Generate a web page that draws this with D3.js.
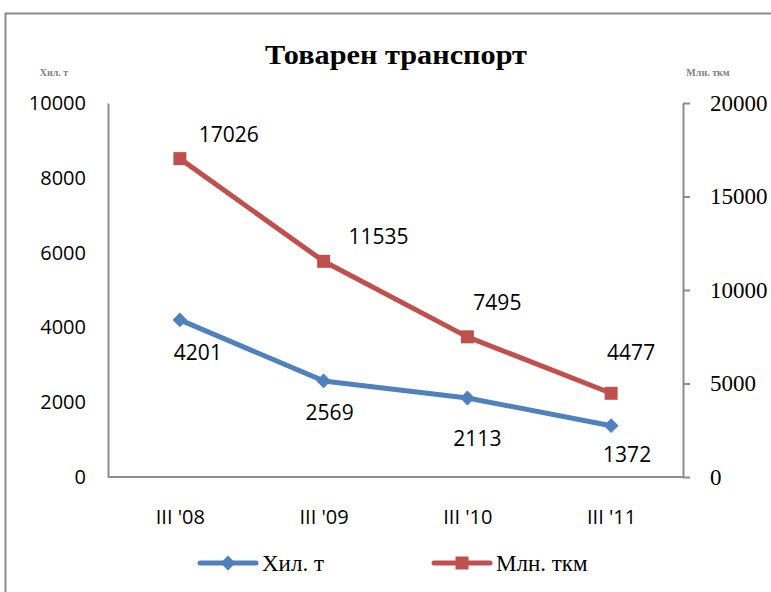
<!DOCTYPE html>
<html>
<head>
<meta charset="utf-8">
<script src="https://cdn.jsdelivr.net/npm/d3@7"></script>
<style>
  body { margin: 0; background: #fff; }
  svg { display: block; }
</style>
</head>
<body>
<svg id="chart" width="771" height="592"></svg>
<script>
// Data
const periods = ["III '08", "III '09", "III '10", "III '11"];
const tonnes = [4201, 2569, 2113, 1372];        // Хил. т (left axis)
const tkm = [17026, 11535, 7495, 4477];          // Млн. ткм (right axis)
const leftTicks = [0, 2000, 4000, 6000, 8000, 10000];
const rightTicks = [0, 5000, 10000, 15000, 20000];

// label nudges (Excel-style hand placed labels)
const tonnesLabelOffsets = [[18, 32], [6, 31], [10, 40], [16, 28]];
const tkmLabelOffsets = [[49, -25], [55, -25], [30, -35], [20, -41]];

/**************************************************************************************************/
const svg = d3.select("#chart");
const plot = { left: 108, right: 683, top: 103, bottom: 477 };
const blue = "#4f81bd", red = "#c0504d";

// outer chart frame (runs off the right and bottom of the picture)
svg.append("rect")
    .attr("x", 5.5).attr("y", 13.5)
    .attr("width", 900).attr("height", 700)
    .attr("fill", "none").attr("stroke", "#8c8c8c").attr("stroke-width", 2);

const x = d3.scalePoint().domain(periods).range([plot.left, plot.right]).padding(0.5);
const yL = d3.scaleLinear().domain([0, 10000]).range([plot.bottom, plot.top]);
const yR = d3.scaleLinear().domain([0, 20000]).range([plot.bottom, plot.top]);

svg.append("text")
    .attr("x", 396).attr("y", 64)
    .attr("text-anchor", "middle")
    .attr("font-family", "Liberation Serif, serif")
    .attr("font-weight", "bold")
    .attr("font-size", 28)
    .attr("textLength", 262).attr("lengthAdjust", "spacingAndGlyphs")
    .text("Товарен транспорт");

// axis titles (tiny grey)
svg.append("text")
    .attr("x", 54).attr("y", 76).attr("text-anchor", "middle")
    .attr("font-family", "Liberation Serif, serif").attr("font-weight", "bold")
    .attr("font-size", 10).attr("fill", "#7f7f7f")
    .text("Хил. т");
svg.append("text")
    .attr("x", 708).attr("y", 76).attr("text-anchor", "middle")
    .attr("font-family", "Liberation Serif, serif").attr("font-weight", "bold")
    .attr("font-size", 10).attr("fill", "#7f7f7f")
    .text("Млн. ткм");

// left axis
const gL = svg.append("g")
    .attr("transform", `translate(${plot.left},0)`)
    .call(d3.axisLeft(yL).tickValues(leftTicks).tickSize(0).tickPadding(22).tickFormat(d3.format("d")));
gL.select(".domain").attr("stroke", "#8c8c8c").attr("stroke-width", 2);
gL.selectAll("text").attr("font-family", "Open Sans, sans-serif").attr("font-size", 20).attr("fill", "#000");

// right axis
const gR = svg.append("g")
    .attr("transform", `translate(${plot.right},0)`)
    .call(d3.axisRight(yR).tickValues(rightTicks).tickSizeInner(7).tickSizeOuter(0).tickPadding(20).tickFormat(d3.format("d")));
gR.select(".domain").attr("stroke", "#8c8c8c").attr("stroke-width", 2);
gR.selectAll("line").attr("stroke", "#8c8c8c").attr("stroke-width", 2);
gR.selectAll("text").attr("font-family", "Liberation Serif, serif").attr("font-size", 23).attr("fill", "#000");

// bottom axis
const gB = svg.append("g")
    .attr("transform", `translate(0,${plot.bottom})`)
    .call(d3.axisBottom(x).tickSize(0).tickPadding(33));
gB.select(".domain").remove();
svg.append("line")
    .attr("x1", plot.left).attr("x2", plot.right)
    .attr("y1", plot.bottom).attr("y2", plot.bottom)
    .attr("stroke", "#8c8c8c").attr("stroke-width", 2);
gB.selectAll("text").attr("font-family", "Open Sans, sans-serif").attr("font-size", 20).attr("fill", "#000");

// lines
const lineL = d3.line().x((d, i) => x(periods[i])).y(d => yL(d));
const lineR = d3.line().x((d, i) => x(periods[i])).y(d => yR(d));

svg.append("path").datum(tonnes).attr("d", lineL)
    .attr("fill", "none").attr("stroke", blue).attr("stroke-width", 5).attr("stroke-linejoin", "round");
svg.append("path").datum(tkm).attr("d", lineR)
    .attr("fill", "none").attr("stroke", red).attr("stroke-width", 5).attr("stroke-linejoin", "round");

const diamond = d3.symbol().type(d3.symbolSquare).size(110);
svg.append("g").selectAll("path")
    .data(tonnes)
    .join("path")
        .attr("d", diamond)
        .attr("transform", (d, i) => `translate(${x(periods[i])},${yL(d)}) rotate(45)`)
        .attr("fill", blue);
svg.append("g").selectAll("rect")
    .data(tkm)
    .join("rect")
        .attr("x", (d, i) => x(periods[i]) - 6.5)
        .attr("y", d => yR(d) - 6.5)
        .attr("width", 13).attr("height", 13)
        .attr("fill", red);

// data labels
svg.append("g").selectAll("text")
    .data(tonnes)
    .join("text")
        .attr("x", (d, i) => x(periods[i]) + tonnesLabelOffsets[i][0])
        .attr("y", (d, i) => yL(d) + tonnesLabelOffsets[i][1])
        .attr("text-anchor", "middle").attr("dominant-baseline", "central")
        .attr("font-family", "Open Sans, sans-serif").attr("font-size", 21)
        .text(d => d);
svg.append("g").selectAll("text")
    .data(tkm)
    .join("text")
        .attr("x", (d, i) => x(periods[i]) + tkmLabelOffsets[i][0])
        .attr("y", (d, i) => yR(d) + tkmLabelOffsets[i][1])
        .attr("text-anchor", "middle").attr("dominant-baseline", "central")
        .attr("font-family", "Open Sans, sans-serif").attr("font-size", 21)
        .text(d => d);

// legend
const legend = [
    { name: "Хил. т", color: blue, x0: 200, marker: "diamond" },
    { name: "Млн. ткм", color: red, x0: 434, marker: "square" }
];
const lg = svg.append("g").selectAll("g")
    .data(legend)
    .join("g")
        .attr("transform", d => `translate(${d.x0},563)`);
lg.append("line")
    .attr("x1", 0).attr("x2", 56)
    .attr("stroke", d => d.color).attr("stroke-width", 5).attr("stroke-linecap", "round");
lg.filter(d => d.marker === "diamond").append("path")
    .attr("d", diamond)
    .attr("transform", "translate(28,0) rotate(45)")
    .attr("fill", blue);
lg.filter(d => d.marker === "square").append("rect")
    .attr("x", 21.5).attr("y", -6.5).attr("width", 13).attr("height", 13)
    .attr("fill", red);
lg.append("text")
    .attr("x", 62).attr("y", 8)
    .attr("font-family", "Liberation Serif, serif").attr("font-size", 23)
    .text(d => d.name);
</script>
</body>
</html>
